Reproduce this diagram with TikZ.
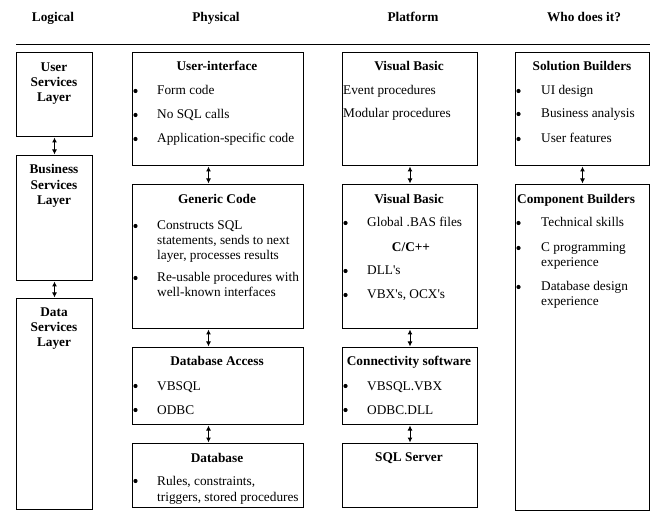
\documentclass[tikz,border=0pt]{standalone}
\usepackage{fontspec}
\setmainfont{Liberation Serif}
\usetikzlibrary{arrows.meta}
\newcommand{\fsz}{\fontsize{13.3}{15}\selectfont}
\begin{document}
\begin{tikzpicture}[x=1pt,y=-1pt,
  box/.style={draw, line width=1pt, inner sep=0pt, anchor=north west},
  ttl/.style={anchor=base, inner sep=0pt, font=\fsz\bfseries},
  txt/.style={anchor=base west, inner sep=0pt, font=\fsz},
  bul/.style={circle, fill, inner sep=0pt, minimum size=4.2pt},
  link/.style={line width=1pt, {Latex[length=5pt,width=5pt]}-{Latex[length=5pt,width=5pt]}, shorten <=0.5pt, shorten >=0.5pt}]
\useasboundingbox (0,0) rectangle (661,518);

% headers
\node[ttl] (hlog) at (53,22) {Logical};
\node[ttl] (hphy) at (216,22) {Physical};
\node[ttl] (hpla) at (413,22) {Platform};
\node[ttl] (hwho) at (584,22) {Who does it?};
\coordinate (rl) at (16,45);
\coordinate (rr) at (650,45);
\draw[line width=1pt] (rl) -- (rr);

% boxes
\node[box, minimum width=76pt, minimum height=84pt] (usl) at (16,52) {};
\node[box, minimum width=76pt, minimum height=125pt] (bsl) at (16,155) {};
\node[box, minimum width=76pt, minimum height=211pt] (dsl) at (16,298) {};
\node[box, minimum width=171pt, minimum height=113pt] (ui) at (132,52) {};
\node[box, minimum width=171pt, minimum height=144pt] (gc) at (132,184) {};
\node[box, minimum width=171pt, minimum height=77pt] (dba) at (132,347) {};
\node[box, minimum width=171pt, minimum height=64pt] (db) at (132,443) {};
\node[box, minimum width=135pt, minimum height=113pt] (vb1) at (342,52) {};
\node[box, minimum width=135pt, minimum height=144pt] (vb2) at (342,184) {};
\node[box, minimum width=135pt, minimum height=77pt] (cs) at (342,347) {};
\node[box, minimum width=135pt, minimum height=64pt] (sql) at (342,443) {};
\node[box, minimum width=134pt, minimum height=113pt] (sb) at (515,52) {};
\node[box, minimum width=134pt, minimum height=326pt] (cb) at (515,184) {};

% arrows
\draw[link] (usl.south) -- (bsl.north);
\draw[link] (bsl.south) -- (dsl.north);
\draw[link] ([xshift=-9.5pt]ui.south) -- ([xshift=-9.5pt]gc.north);
\draw[link] ([xshift=-9.5pt]gc.south) -- ([xshift=-9.5pt]dba.north);
\draw[link] ([xshift=-9.5pt]dba.south) -- ([xshift=-9.5pt]db.north);
\draw[link] (vb1.south) -- (vb2.north);
\draw[link] (vb2.south) -- (cs.north);
\draw[link] (cs.south) -- (sql.north);
\draw[link] (sb.south) -- (cb.north);

% logical texts
\node[ttl] (t1) at (54,72) {User};
\node[ttl] (t2) at (54,87) {Services};
\node[ttl] (t3) at (54,102) {Layer};
\node[ttl] (t4) at (54,174) {Business};
\node[ttl] (t5) at (54,189.5) {Services};
\node[ttl] (t6) at (54,205) {Layer};
\node[ttl] (t7) at (54,317) {Data};
\node[ttl] (t8) at (54,332) {Services};
\node[ttl] (t9) at (54,347) {Layer};

% physical texts
\node[ttl] (p0) at (217,71) {User-interface};
\node[bul] (pb1) at (135.5,91) {};
\node[txt] (p1) at (157,95) {Form code};
\node[bul] (pb2) at (135.5,115) {};
\node[txt] (p2) at (157,119) {No SQL calls};
\node[bul] (pb3) at (135.5,139) {};
\node[txt] (p3) at (157,143) {Application-specific code};

\node[ttl] (g0) at (217,204) {Generic Code};
\node[bul] (gb1) at (135.5,226) {};
\node[txt] (g1) at (157,230) {Constructs SQL};
\node[txt] (g2) at (157,245) {statements, sends to next};
\node[txt] (g3) at (157,260) {layer, processes results};
\node[bul] (gb2) at (135.5,278) {};
\node[txt] (g4) at (157,282) {Re-usable procedures with};
\node[txt] (g5) at (157,297) {well-known interfaces};

\node[ttl] (a0) at (217,366) {Database Access};
\node[bul] (ab1) at (135.5,386) {};
\node[txt] (a1) at (157,390) {VBSQL};
\node[bul] (ab2) at (135.5,410) {};
\node[txt] (a2) at (157,414) {ODBC};

\node[ttl] (d0) at (217,462) {Database};
\node[bul] (db1) at (135.5,481) {};
\node[txt] (d1) at (157,485) {Rules, constraints,};
\node[txt] (d2) at (157,501) {triggers, stored procedures};

% platform texts
\node[ttl] (v0) at (409,71) {Visual Basic};
\node[txt] (v1) at (343,95) {Event procedures};
\node[txt] (v2) at (343,118) {Modular procedures};

\node[ttl] (w0) at (409,204) {Visual Basic};
\node[bul] (wb1) at (345.5,223) {};
\node[txt] (w1) at (367,227) {Global .BAS files};
\node[ttl] (w2) at (411,252) {C/C++};
\node[bul] (wb2) at (345.5,271) {};
\node[txt] (w3) at (367,275) {DLL\textquotesingle s};
\node[bul] (wb3) at (345.5,295) {};
\node[txt] (w4) at (367,299) {VBX\textquotesingle s, OCX\textquotesingle s};

\node[ttl] (c0) at (409,366) {Connectivity software};
\node[bul] (cb1) at (345.5,386) {};
\node[txt] (c1) at (367,390) {VBSQL.VBX};
\node[bul] (cb2) at (345.5,410) {};
\node[txt] (c2) at (367,414) {ODBC.DLL};

\node[ttl] (s0) at (409,461) {SQL Server};

% who texts
\node[ttl] (u0) at (582,71) {Solution Builders};
\node[bul] (ub1) at (518.5,91) {};
\node[txt] (u1) at (541,95) {UI design};
\node[bul] (ub2) at (518.5,114) {};
\node[txt] (u2) at (541,118) {Business analysis};
\node[bul] (ub3) at (518.5,139) {};
\node[txt] (u3) at (541,143) {User features};

\node[ttl, anchor=base west] (k0) at (517,204) {Component Builders};
\node[bul] (kb1) at (518.5,223) {};
\node[txt] (k1) at (541,227) {Technical skills};
\node[bul] (kb2) at (518.5,248) {};
\node[txt] (k2) at (541,252) {C programming};
\node[txt] (k3) at (541,267) {experience};
\node[bul] (kb3) at (518.5,287) {};
\node[txt] (k4) at (541,291) {Database design};
\node[txt] (k5) at (541,306) {experience};
\end{tikzpicture}
\end{document}
